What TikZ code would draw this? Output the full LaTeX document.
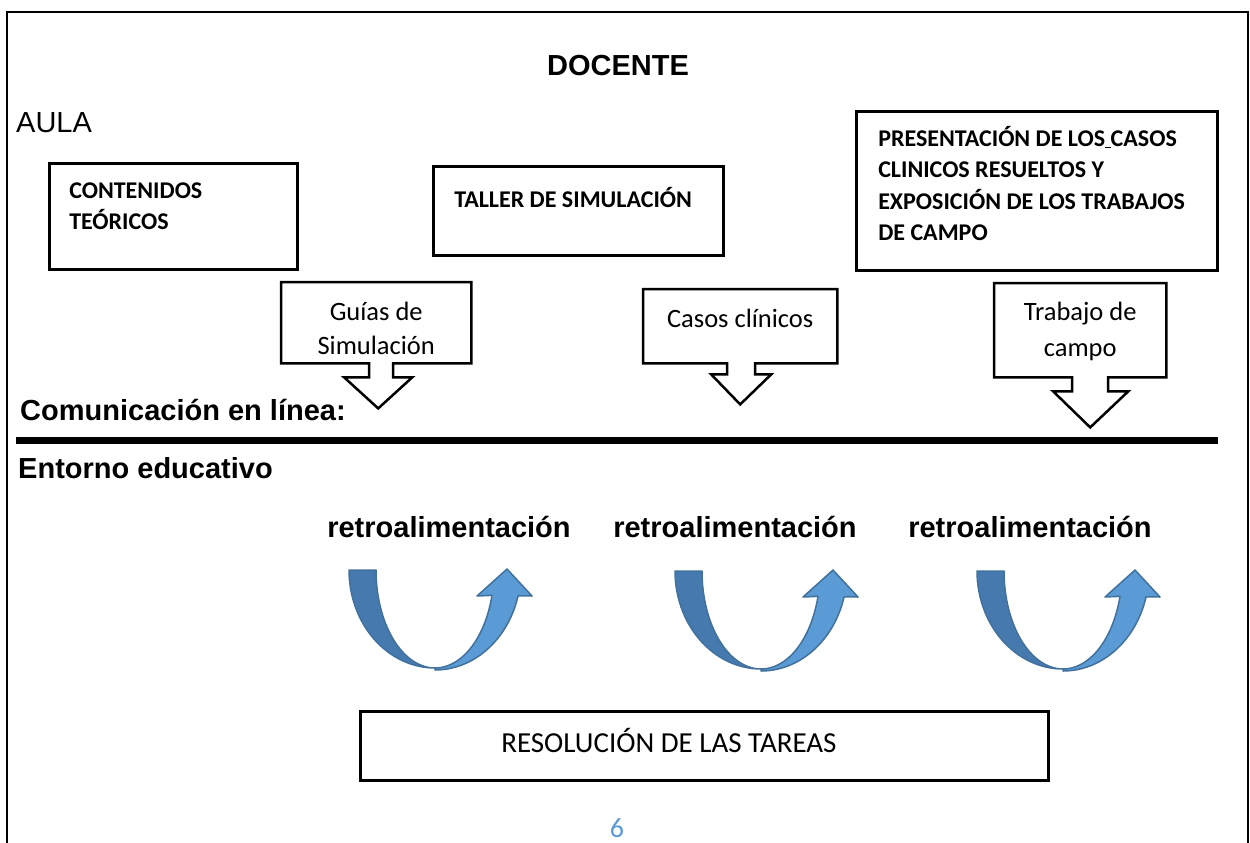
\documentclass[tikz,border=0pt]{standalone}
\usepackage{fontspec}
\setmainfont{Liberation Sans}
\newfontfamily\calibri{Carlito}
\usepackage{tikz}
\usetikzlibrary{calc,positioning}
\definecolor{bandDark}{RGB}{70,122,175}
\definecolor{bandLight}{RGB}{91,155,213}
\definecolor{bandLine}{RGB}{65,113,156}
\definecolor{pageNum}{RGB}{91,155,213}

\begin{document}
\begin{tikzpicture}[x=1pt, y=-1pt,
	basic/.style    = {draw, line width=2.5pt, anchor=north west, inner ysep=0pt},
	bold box/.style = {basic, align=flush left, font=\calibri\bfseries\fontsize{24}{31.5}\selectfont},
	callout/.style  = {anchor=north west, inner ysep=0pt, inner xsep=10pt, align=flush center, font=\calibri\fontsize{26.5}{34}\selectfont},
	heading/.style  = {anchor=base west, inner sep=0pt, font=\bfseries\fontsize{29}{35}\selectfont},
	retro/.style    = {heading, anchor=base},
	band/.style     = {draw=bandLine, line width=1.5pt, line join=round}]

	\useasboundingbox (0,0) rectangle (1250,843);

	% page frame and separator
	\draw[line width=2.5pt] (7,843) -- (7,12) -- (1248,12) -- (1248,843);
	\draw[line width=7pt] (16,440) -- (1218,440);

	% titles
	\node[heading, anchor=base] (docente) at (618,75) {DOCENTE};
	\node[heading, font=\fontsize{29}{35}\selectfont] (aula) at (16,132) {AULA};
	\node[heading] (linea) at (20,420) {Comunicación en línea:};
	\node[heading] (entorno) at (18,478) {Entorno educativo};

	% classroom boxes
	\node[bold box, text width=208pt, inner xsep=20pt, text height=35pt, text depth=71pt] (teo) at (48,162) {CONTENIDOS\\TEÓRICOS};
	\node[bold box, text width=248pt, inner xsep=21pt, text height=41pt, text depth=48pt] (taller) at (432,165) {TALLER DE SIMULACIÓN};
	\node[bold box, text width=317pt, inner xsep=22pt, text height=35pt, text depth=124pt] (pres) at (855,110)
		{PRESENTACIÓN DE LOS\underline{\ }CASOS\\CLINICOS RESUELTOS Y\\EXPOSICIÓN DE LOS TRABAJOS\\DE CAMPO};

	% down arrow callouts
	\node[callout, text width=170pt, text height=38pt, text depth=43pt] (guias) at (281,282) {Guías de\\Simulación};
	\node[callout, text width=174pt, text height=38pt, text depth=36pt] (casos) at (643,289) {Casos clínicos};
	\node[callout, text width=152pt, text height=37pt, text depth=57pt, font=\calibri\fontsize{26.5}{36}\selectfont] (trabajo) at (994,283) {Trabajo de\\campo};

	\foreach \n/\stemL/\stemR/\headY/\headL/\headR/\tipX/\tipY in
		{guias/-7/17/14/-32/36/2/45, casos/-13/15/11/-29/31/0/41, trabajo/-8/28/14/-27/48/10/50}
	\draw[line width=2.5pt] (\n.south west) -- (\n.north west) -- (\n.north east) -- (\n.south east)
		-- ($(\n.south)+(\stemR,0)$) -- ($(\n.south)+(\stemR,\headY)$) -- ($(\n.south)+(\headR,\headY)$)
		-- ($(\n.south)+(\tipX,\tipY)$) -- ($(\n.south)+(\headL,\headY)$) -- ($(\n.south)+(\stemL,\headY)$)
		-- ($(\n.south)+(\stemL,0)$) -- cycle;

	% feedback
	\node[retro] (retro1) at (449,537) {retroalimentación};
	\node[retro] (retro2) at (735,537) {retroalimentación};
	\node[retro] (retro3) at (1030,537) {retroalimentación};

	\foreach \ox/\oy in {349/570, 675/571, 977/571}
	{
		\begin{scope}[shift={(\ox,\oy)}]
		\fill[band, fill=bandDark] plot[domain=180:90, samples=30] ({86+86*cos(\x)},{98*sin(\x)})
			-- plot[domain=90:180, samples=30] ({86+59*cos(\x)},{98*sin(\x)}) -- cycle;
		\fill[band, fill=bandLight] plot[domain=90:15, samples=30] ({86+86*cos(\x)},{100*sin(\x)})
			-- (183,26) -- (158,-1) -- (128,26)
			-- plot[domain=15:90, samples=30] ({86+59*cos(\x)},{98*sin(\x)}) -- cycle;
		\end{scope}
	}

	\node[basic, align=flush left, font=\calibri\fontsize{29}{35}\selectfont, text width=406pt, inner xsep=141pt, text height=41pt, text depth=28pt] (tareas) at (359,710) {RESOLUCIÓN DE LAS TAREAS};

	\node[anchor=base, inner sep=0pt, text=pageNum, font=\calibri\fontsize{28}{32}\selectfont] (pagina) at (617,837) {6};
\end{tikzpicture}
\end{document}
